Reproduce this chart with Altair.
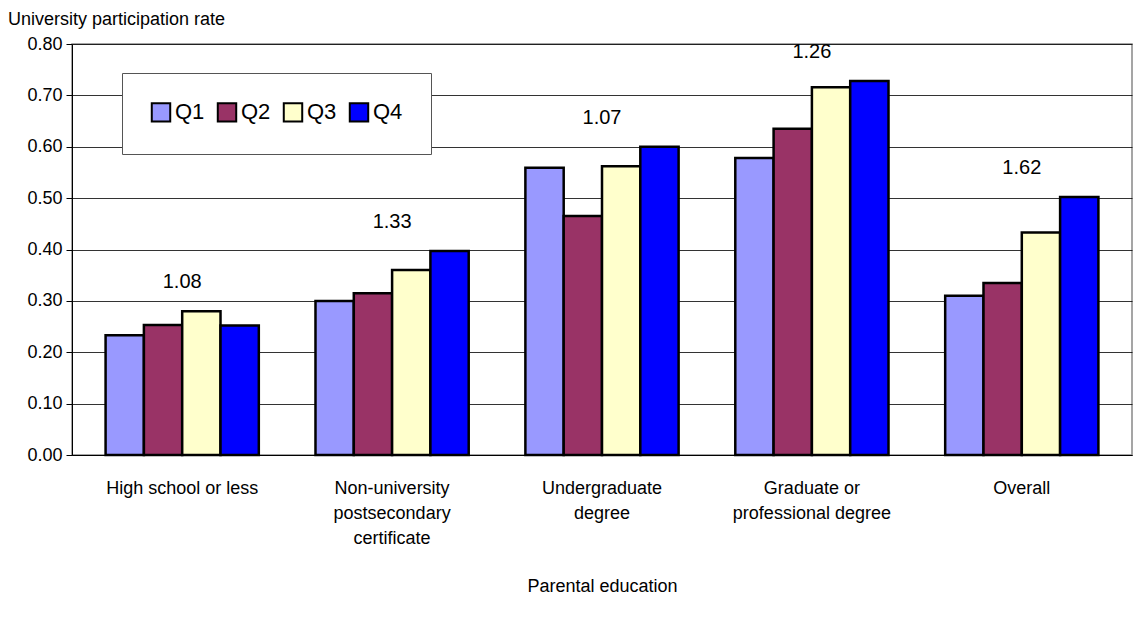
import altair as alt
import pandas as pd

categories = ["High school or less", "Non-university|postsecondary|certificate",
              "Undergraduate|degree", "Graduate or|professional degree", "Overall"]
quartiles = ["Q1", "Q2", "Q3", "Q4"]
q1 = [0.233, 0.300, 0.559, 0.578, 0.310]
q2 = [0.253, 0.315, 0.465, 0.635, 0.335]
q3 = [0.280, 0.360, 0.562, 0.716, 0.433]
q4 = [0.252, 0.397, 0.600, 0.728, 0.502]
ratios = ["1.08", "1.33", "1.07", "1.26", "1.62"]
colors = ["#9999FF", "#993366", "#FFFFCC", "#0000FF"]

rows = []
for i, c in enumerate(categories):
    for q, vals in zip(quartiles, [q1, q2, q3, q4]):
        rows.append({"cat": c, "q": q, "v": vals[i]})
df = pd.DataFrame(rows)
lab = pd.DataFrame({"cat": categories, "r": ratios,
                    "top": [max(a, b, c, d) for a, b, c, d in zip(q1, q2, q3, q4)]})

F = "Liberation Sans"
xenc = alt.X("cat:N", sort=categories, title="Parental education",
             scale=alt.Scale(paddingInner=0.27, paddingOuter=0.16),
             axis=alt.Axis(labelAngle=0, labelExpr="split(datum.label, '|')",
                           labelFontSize=18, labelFont=F, titleFont=F, titleFontSize=18,
                           titleFontWeight="normal", titlePadding=30, labelPadding=24,
                           ticks=False, domainColor="black", labelColor="black",
                           titleColor="black", labelLineHeight=25))

bars = alt.Chart(df).mark_bar(stroke="black", strokeWidth=2.5).encode(
    x=xenc,
    xOffset=alt.XOffset("q:N", sort=quartiles, scale=alt.Scale(paddingInner=0, paddingOuter=0)),
    y=alt.Y("v:Q", scale=alt.Scale(domain=[0, 0.8]),
            axis=alt.Axis(title=None, format=".2f", values=[i / 10 for i in range(9)],
                          labelOverlap=False,
                          labelFontSize=18, labelFont=F, labelColor="black",
                          gridColor="#000000", gridOpacity=0.8, domainColor="black",
                          tickColor="black", tickSize=6, labelPadding=4)),
    color=alt.Color("q:N", sort=quartiles, scale=alt.Scale(domain=quartiles, range=colors),
                    legend=alt.Legend(title=None, orient="none", direction="horizontal",
                                      legendX=50, legendY=29, symbolType="square",
                                      symbolSize=340, symbolStrokeColor="black",
                                      symbolStrokeWidth=2, labelFontSize=22, labelFont=F,
                                      labelColor="black", strokeColor="#555",
                                      padding=28, columnPadding=8, labelOffset=3,
                                      fillColor="white", offset=0)),
)

texts = alt.Chart(lab).mark_text(fontSize=20, font=F, dy=-29, color="black").encode(
    x=alt.X("cat:N", sort=categories), y="top:Q", text="r:N")

title = alt.Chart(pd.DataFrame({"t": ["University participation rate"]})).mark_text(
    align="left", fontSize=18, font=F, color="black").encode(
    x=alt.value(-64), y=alt.value(-24), text="t:N")

chart = (bars + texts + title).properties(
    width=1060, height=411,
    padding={"left": 64, "top": 36, "right": 2, "bottom": 160},
    autosize=alt.AutoSizeParams(type="none"),
).configure_view(stroke="#888", strokeWidth=1.5)

chart.save("out.html", embed_options={"renderer": "svg", "actions": False})
